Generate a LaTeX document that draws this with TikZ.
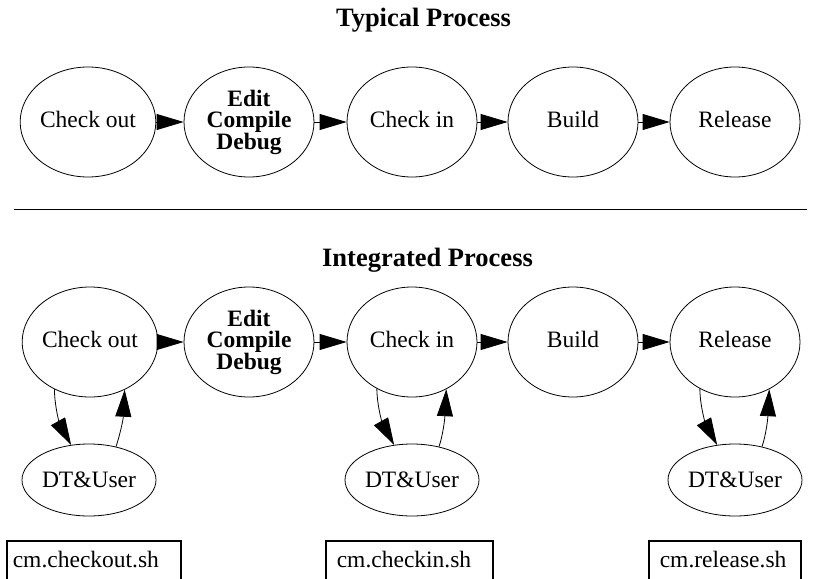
\documentclass[tikz,border=0pt]{standalone}
\usepackage{fontspec}
\setmainfont{Liberation Serif}
\usetikzlibrary{shapes.geometric,arrows.meta}
\newcommand{\bodyfont}{\fontsize{23.5}{21.5}\selectfont}
\newcommand{\titlefont}{\fontsize{26.5}{28}\selectfont\bfseries}
\tikzset{
  proc/.style={ellipse, draw, line width=0.8pt, minimum width=130pt, minimum height=110pt, inner sep=0pt, font=\bodyfont, text depth=6pt},
  boldproc/.style={ellipse, draw, line width=0.8pt, minimum width=130pt, minimum height=110pt, inner sep=0pt, font=\bodyfont\bfseries, align=center},
  user/.style={ellipse, draw, line width=0.8pt, minimum width=134pt, minimum height=72pt, inner sep=0pt, font=\bodyfont},
  title/.style={font=\titlefont, inner sep=0pt, anchor=base},
  script/.style={draw, line width=1.6pt, anchor=north west, font=\bodyfont, align=left, text height=17pt, text depth=32pt, inner ysep=10pt},
  flow/.style={line width=0.8pt, -{Triangle[length=27pt,width=16pt]}},
}
\begin{document}
\begin{tikzpicture}[x=1pt,y=-1pt]
\useasboundingbox (0,0) rectangle (824,578);
% titles
\node[title] (t1) at (423.5,27) {Typical Process};
\node[title] (t2) at (427.5,266) {Integrated Process};
% separator
\draw[line width=0.9pt] (14,209) -- (807,209);
% typical process
\node[proc] (a1) at (88,122) {Check out};
\node[boldproc] (a2) at (249,122) {Edit\\Compile\\Debug};
\node[proc] (a3) at (412,122) {Check in};
\node[proc] (a4) at (573,122) {Build};
\node[proc] (a5) at (735,122) {Release};
\draw[flow] (a1) -- (a2);
\draw[flow] (a2) -- (a3);
\draw[flow] (a3) -- (a4);
\draw[flow] (a4) -- (a5);
% integrated process
\node[proc] (b1) at (90,342) {Check out};
\node[boldproc] (b2) at (249,342) {Edit\\Compile\\Debug};
\node[proc] (b3) at (412,342) {Check in};
\node[proc] (b4) at (573,342) {Build};
\node[proc] (b5) at (735,342) {Release};
\draw[flow] (b1) -- (b2);
\draw[flow] (b2) -- (b3);
\draw[flow] (b3) -- (b4);
\draw[flow] (b4) -- (b5);
% users
\node[user] (u1) at (89,480) {DT\&User};
\node[user] (u3) at (412,480) {DT\&User};
\node[user] (u5) at (735,480) {DT\&User};
\foreach \p/\u in {b1/u1, b3/u3, b5/u5}{
  \draw[flow] (\p.-127.6) .. controls +(0.5,22) and +(-10,-18) .. (\u.117);
  \draw[flow] (\u.51) .. controls +(4,-12) and +(-1.5,30) .. (\p.-54.5);
}
% scripts
\node[script, inner xsep=6pt, text width=162pt] (s1) at (6,540) {cm.checkout.sh};
\node[script, inner xsep=11pt, text width=145pt] (s2) at (325,540) {cm.checkin.sh};
\node[script, inner xsep=11pt, text width=130pt] (s3) at (648,540) {cm.release.sh};
\end{tikzpicture}
\end{document}
